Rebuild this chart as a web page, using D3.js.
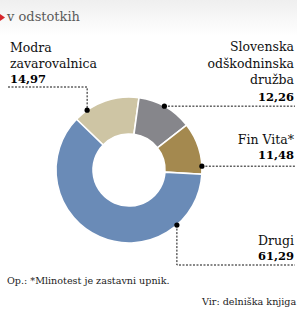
<!DOCTYPE html>
<html>
<head>
<meta charset="utf-8">
<script src="https://cdn.jsdelivr.net/npm/d3@7"></script>
<style>
  body { margin: 0; background: #fff; }
  svg text { font-family: "DejaVu Serif", serif; }
</style>
</head>
<body>
<div id="chart"></div>
<script>
// data (v odstotkih)
var names = [["Modra", "zavarovalnica"], ["Slovenska", "odškodninska", "družba"], ["Fin Vita*"], ["Drugi"]]
var values = [14.97, 12.26, 11.48, 61.29]
var colors = ["#cec5a4", "#86868b", "#a4894f", "#6a8bb7"]

var width = 297, height = 309
var cx = 129, cy = 170, outer = 73, inner = 36
var fmt = function(v) { return d3.format(".2f")(v).replace(".", ","); }

var svg = d3.select("#chart")
  .append("svg")
    .attr("width", width)
    .attr("height", height)

// faint header band
var grad = svg.append("defs").append("linearGradient")
    .attr("id", "hdr").attr("x1", 0).attr("y1", 0).attr("x2", 0).attr("y2", 1)
grad.append("stop").attr("offset", "0%").attr("stop-color", "#efefef")
grad.append("stop").attr("offset", "100%").attr("stop-color", "#ffffff")
svg.append("rect").attr("width", width).attr("height", 36).attr("fill", "url(#hdr)")

svg.append("path")
  .attr("d", "M0,14 L5,17.5 L0,21 Z")
  .attr("fill", "#d7262b")
svg.append("text")
  .attr("x", 7).attr("y", 21)
  .style("font-size", "13px")
  .style("fill", "#5a5a5a")
  .text("v odstotkih")

var rad = function(deg) { return deg * Math.PI / 180; }
var start = rad(-46)

var pie = d3.pie().sort(null).startAngle(start).endAngle(start + 2 * Math.PI)
var arcs = pie(values)
var arc = d3.arc().innerRadius(inner).outerRadius(outer)

var g = svg.append("g").attr("transform", "translate(" + cx + "," + cy + ")")
g.selectAll("path.slice")
  .data(arcs)
  .enter()
  .append("path")
    .attr("class", "slice")
    .attr("d", arc)
    .attr("fill", function(d, i) { return colors[i]; })
    .attr("stroke", "#fff")
    .attr("stroke-width", 1.6)

// where each leader line touches the ring, and where its label sits
var dotAngle = [-35, 29, 87, 139]
var labels = [
  { x: 10, y: 52, anchor: "start", step: 15.5, line: function(p) { return [[8, 87], [p[0], 87], p]; } },
  { x: 294, y: 51, anchor: "end", step: 16.5, line: function(p) { return [p, [295, p[1]]]; } },
  { x: 294, y: 144, anchor: "end", step: 15, line: function(p) { return [p, [295, p[1]]]; } },
  { x: 294, y: 245, anchor: "end", step: 14.5, line: function(p) { return [p, [p[0], 265], [295, 265]]; } }
]

arcs.forEach(function(d, i) {
  var a = rad(dotAngle[i])
  var p = [cx + outer * Math.sin(a), cy - outer * Math.cos(a)]
  var L = labels[i]

  svg.append("path")
    .attr("d", d3.line()(L.line(p)))
    .attr("fill", "none")
    .attr("stroke", "#111")
    .attr("stroke-width", 1)
    .attr("stroke-dasharray", "2,1.5")
  svg.append("circle")
    .attr("cx", p[0]).attr("cy", p[1]).attr("r", 2.6)
    .attr("fill", "#000")

  var t = svg.append("text")
    .attr("x", L.x).attr("y", L.y)
    .attr("text-anchor", L.anchor)
    .style("font-size", "12.5px")
    .style("fill", "#111")
  names[i].forEach(function(n, k) {
    t.append("tspan").attr("x", L.x).attr("dy", k == 0 ? 0 : L.step).text(n)
  })
  t.append("tspan")
    .attr("x", L.x).attr("dy", L.step)
    .style("font-weight", "bold")
    .style("font-size", "11.5px")
    .style("fill", "#000")
    .text(fmt(values[i]))
})

svg.append("text")
  .attr("x", 7).attr("y", 284)
  .style("font-size", "9.6px")
  .style("fill", "#222")
  .text("Op.: *Mlinotest je zastavni upnik.")

svg.append("text")
  .attr("x", 202).attr("y", 305)
  .style("font-size", "9.6px")
  .style("fill", "#222")
  .text("Vir: delniška knjiga")
</script>
</body>
</html>
